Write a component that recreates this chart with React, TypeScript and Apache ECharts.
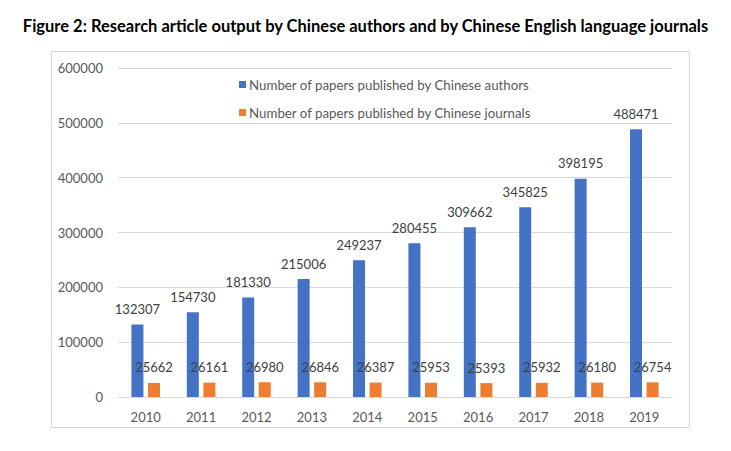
import React, { useEffect, useRef } from "react";
import * as echarts from "echarts";

const titleText = "Figure 2: Research article output by Chinese authors and by Chinese English language journals";
const years = ["2010", "2011", "2012", "2013", "2014", "2015", "2016", "2017", "2018", "2019"];
const authorsName = "Number of papers published by Chinese authors";
const journalsName = "Number of papers published by Chinese journals";
const authorsValues = [132307, 154730, 181330, 215006, 249237, 280455, 309662, 345825, 398195, 488471];
const journalsValues = [25662, 26161, 26980, 26846, 26387, 25953, 25393, 25932, 26180, 26754];

const FONT = "Lato, 'Open Sans', sans-serif";

export default function App() {
  const ref = useRef<HTMLDivElement>(null);
  useEffect(() => {
    if (!ref.current) return;
    const chart = echarts.init(ref.current, null, { renderer: "svg" });
    chart.setOption({
      animation: false,
      backgroundColor: "#ffffff",
      textStyle: { fontFamily: FONT },
      title: {
        text: titleText,
        left: "center",
        top: 12,
        textStyle: { fontFamily: FONT, fontSize: 16.5, fontWeight: "bold", color: "#000000" },
      },
      graphic: [
        {
          type: "rect",
          shape: { x: 51.5, y: 51.5, width: 638, height: 376 },
          style: { fill: "none", stroke: "#d9d9d9", lineWidth: 1 },
          silent: true,
        },
      ],
      legend: {
        orient: "vertical",
        left: 234,
        top: 73,
        itemWidth: 7,
        itemHeight: 7,
        itemGap: 15,
        icon: "rect",
        textStyle: { fontFamily: FONT, fontSize: 13.3, color: "#595959", padding: [0, 0, 0, -2] },
        data: [authorsName, journalsName],
      },
      grid: { left: 118, right: 59, top: 68, bottom: 54, containLabel: false },
      xAxis: {
        type: "category",
        data: years,
        axisLine: { show: true, lineStyle: { color: "#d9d9d9", width: 1 } },
        axisTick: { show: false },
        axisLabel: { color: "#595959", fontSize: 13, fontFamily: FONT, margin: 13 },
      },
      yAxis: {
        type: "value",
        min: 0,
        max: 600000,
        interval: 100000,
        axisLine: { show: false },
        axisTick: { show: false },
        splitLine: { lineStyle: { color: "#d9d9d9", width: 1 } },
        axisLabel: {
          color: "#595959",
          fontSize: 13,
          fontFamily: FONT,
          margin: 15,
          formatter: (v: number) => String(v),
        },
      },
      series: [
        {
          name: authorsName,
          type: "bar",
          data: authorsValues,
          barWidth: 12,
          barGap: "38%",
          itemStyle: { color: "#4472C4" },
          label: { show: true, position: "top", distance: 9, color: "#404040", fontSize: 13, fontFamily: FONT },
        },
        {
          name: journalsName,
          type: "bar",
          data: journalsValues,
          barWidth: 12,
          itemStyle: { color: "#ED7D31" },
          label: { show: true, position: "top", distance: 9, color: "#404040", fontSize: 13, fontFamily: FONT },
        },
      ],
    });
    return () => chart.dispose();
  }, []);
  return <div ref={ref} style={{ position: "fixed", left: 0, top: 0, width: 731, height: 451 }} />;
}
